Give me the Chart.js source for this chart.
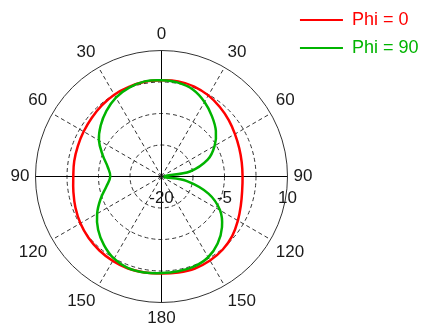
<!DOCTYPE html>
<html>
<head>
<meta charset="utf-8">
<script src="https://cdn.jsdelivr.net/npm/chart.js@4.4.1/dist/chart.umd.min.js"></script>
<style>
  html, body { margin: 0; padding: 0; background: #ffffff; }
  #wrap { position: relative; width: 421px; height: 327px; }
</style>
</head>
<body>
<div id="wrap"><canvas id="pattern"></canvas></div>
<script>
// Cut directions, degrees clockwise from boresight (0 = top)
const angles = [0, 10, 20, 30, 40, 50, 60, 70, 80, 90, 100, 110,
                120, 130, 140, 150, 160, 170, 180, 190, 200, 210, 220, 230,
                240, 250, 260, 270, 280, 290, 300, 310, 320, 330, 340, 350];

// Gain in dB for each direction
const phi0 = [2.9, 3.0, 2.8, 2.3, 1.6, 0.9, 0.2, -0.3, -0.6, -0.7, -0.5, 0.1,
              1.0, 2.0, 2.7, 3.1, 3.3, 3.2, 3.1, 3.2, 3.3, 3.2, 3.0, 2.7,
              2.3, 1.8, 1.3, 1.0, 1.1, 1.2, 1.4, 1.7, 2.1, 2.5, 2.7, 2.9];
const phi90 = [2.9, 2.7, 2.0, 0.5, -1.3, -3.1, -5.4, -8.3, -13.1, -19.3, -14.0, -8.1,
               -3.9, -1.2, 0.8, 2.2, 2.8, 2.9, 3.0, 3.2, 3.2, 2.6, 1.3, -0.3,
               -2.3, -4.6, -6.7, -7.8, -7.0, -5.1, -2.8, -1.1, 0.4, 1.7, 2.5, 3.0];

const seriesNames = ['Phi = 0', 'Phi = 90'];
const seriesColors = ['#ff0000', '#00b400'];

// Radial axis (dB)
const radialMin = -20;
const radialMax = 10;
const ringStep = 7.5;
const radialTicks = [-20, -5, 10];

// Plot placement on the page
const plotCenter = { x: 161.5, y: 176.5 };
const plotRadius = 126;
const labelGap = 6;

const FONT = '"Liberation Sans", Arial, sans-serif';
const TEXT = '#1a1a1a';

// Angle labels read 0..180 on both halves
const angleLabels = angles.map(a => String(a <= 180 ? a : 360 - a));

// dB labels along the right-hand horizontal axis
const radialTickLabels = {
  id: 'radialTickLabels',
  afterDraw(chart) {
    const s = chart.scales.r;
    const ctx = chart.ctx;
    ctx.save();
    ctx.font = '17px ' + FONT;
    ctx.fillStyle = TEXT;
    ctx.textAlign = 'center';
    ctx.textBaseline = 'middle';
    radialTicks.forEach(v => {
      const d = s.getDistanceFromCenterForValue(v);
      ctx.fillText(String(v), s.xCenter + d, s.yCenter + 21.5);
    });
    ctx.restore();
  }
};

new Chart(document.getElementById('pattern'), {
  type: 'radar',
  data: {
    labels: angleLabels,
    datasets: [
      {
        label: seriesNames[0],
        data: phi0,
        borderColor: seriesColors[0],
        backgroundColor: seriesColors[0],
        borderWidth: 2.5,
        pointRadius: 0,
        fill: false,
        tension: 0.4,
        order: 1
      },
      {
        label: seriesNames[1],
        data: phi90,
        borderColor: seriesColors[1],
        backgroundColor: seriesColors[1],
        borderWidth: 2.5,
        pointRadius: 0,
        fill: false,
        tension: 0.4,
        order: 0
      }
    ]
  },
  options: {
    responsive: true,
    maintainAspectRatio: false,
    animation: false,
    events: [],
    layout: { padding: { top: 1, right: -7.5, left: 0, bottom: 0 } },
    plugins: {
      tooltip: { enabled: false },
      legend: {
        position: 'right',
        align: 'start',
        labels: {
          boxWidth: 43,
          boxHeight: 2,
          padding: 10,
          font: { family: FONT, size: 18 },
          sort: (a, b) => a.datasetIndex - b.datasetIndex,
          generateLabels(chart) {
            const items = Chart.defaults.plugins.legend.labels.generateLabels(chart);
            items.forEach(it => {
              const c = seriesColors[it.datasetIndex];
              it.fillStyle = c;
              it.strokeStyle = c;
              it.lineWidth = 0;
              it.fontColor = c;
            });
            return items;
          }
        }
      }
    },
    scales: {
      r: {
        min: radialMin,
        max: radialMax,
        startAngle: 0,
        ticks: { display: false, stepSize: ringStep },
        grid: {
          circular: true,
          color: '#333333',
          lineWidth: 1
        },
        border: {
          dash: ctx => (ctx.index === 4 ? [] : [4, 3])
        },
        angleLines: {
          color: ctx => (ctx.index % 9 === 0 ? '#000000' : '#333333'),
          lineWidth: ctx => (ctx.index % 3 === 0 ? 1 : 0),
          borderDash: ctx => (ctx.index % 9 === 0 ? [] : [4, 3])
        },
        pointLabels: {
          padding: labelGap,
          color: TEXT,
          font: { family: FONT, size: 17 },
          callback: (label, index) => (index % 3 === 0 ? label : '')
        },
        // Place the dial at a fixed spot and keep its angle labels attached to it
        afterFit(scale) {
          const items = scale._pointLabelItems || [];
          const before = items.map((_, i) => scale.getPointPosition(i, scale.drawingArea + labelGap));
          scale.xCenter = plotCenter.x;
          scale.yCenter = plotCenter.y;
          scale.drawingArea = plotRadius;
          items.forEach((it, i) => {
            const p = scale.getPointPosition(i, plotRadius + labelGap);
            const dx = p.x - before[i].x;
            const dy = p.y - before[i].y;
            it.x += dx; it.left += dx; it.right += dx;
            it.y += dy; it.top += dy; it.bottom += dy;
          });
        }
      }
    }
  },
  plugins: [radialTickLabels]
});
</script>
</body>
</html>
